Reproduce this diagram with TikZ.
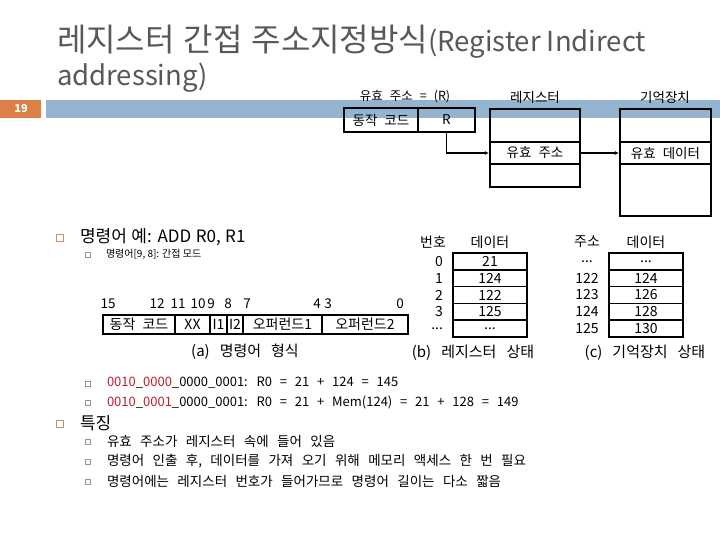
\documentclass[tikz,border=0pt]{standalone}
\usepackage{fontspec}
\setmainfont{Noto Sans CJK KR}
\usetikzlibrary{arrows.meta}
\definecolor{titlegray}{RGB}{90,88,86}
\definecolor{barblue}{RGB}{148,179,206}
\definecolor{barorange}{RGB}{221,128,71}
\definecolor{bulletone}{RGB}{196,146,110}
\definecolor{bullettwo}{RGB}{150,150,150}
\definecolor{binred}{RGB}{190,30,40}
\newcommand{\fs}[1]{\fontsize{#1}{#1}\selectfont}
\newcommand{\ws}[1]{\spaceskip=#1\relax}
\newcommand{\tdots}{...}
\tikzset{
  txt/.style={inner sep=0pt, outer sep=0pt},
  bone/.style={draw=bulletone, line width=0.8pt, minimum size=6.5pt, inner sep=0pt},
  btwo/.style={draw=bullettwo, line width=0.6pt, minimum size=5.5pt, inner sep=0pt},
  cell/.style={draw, line width=2.2pt, inner sep=0pt, font=\fs{13.5}\ws{7pt}},
  tcell/.style={draw, line width=1.6pt, minimum width=74pt, minimum height=16.8pt, inner sep=0pt, font=\fs{14}},
  fcell/.style={draw, line width=1.8pt, minimum height=19pt, inner sep=0pt, font=\fs{14}\ws{7pt}},
  arr/.style={line width=1.3pt, -{Latex[length=4pt,width=4pt]}},
  body/.style={txt, anchor=west, font=\fs{13.5}\ws{8.4pt}},
  capt/.style={txt, font=\fs{15}\ws{10pt}}
}
\begin{document}
\begin{tikzpicture}[x=1pt,y=-1pt]
\useasboundingbox (0,0) rectangle (720,540);
\fill[white] (0,0) rectangle (720,540);
% title
\node[txt, anchor=base west, text=titlegray] (t1) at (57,52) {{\fs{32}\ws{9pt}레지스터 간접 주소지정방식}{\fs{27.5}(Register Indirect}};
\node[txt, anchor=base west, text=titlegray, font=\fs{27.5}] (t2) at (57,86) {addressing)};
% bar
\fill[barorange] (0,100) rectangle (41,118);
\fill[barblue] (46,100) rectangle (720,118);
\node[txt, text=white, font=\fs{11}\bfseries] (pg) at (21,109) {19};
% top diagram
\node[txt, font=\fs{12.5}\ws{7pt}] (lea) at (405,97) {유효 주소 = (R)};
\node[txt, font=\fs{13.5}] (lreg) at (535,97) {레지스터};
\node[txt, font=\fs{13.5}] (lmem) at (665,97) {기억장치};
\node[cell, line width=2.8pt, minimum width=74pt, minimum height=24pt] (op) at (381,120) {동작 코드};
\node[cell, line width=2.8pt, minimum width=57pt, minimum height=24pt] (rr) at (446.5,120) {R};
\node[cell, minimum width=90pt, minimum height=33pt] (r1) at (535,125.5) {};
\node[cell, minimum width=90pt, minimum height=22pt] (r2) at (535,153) {유효 주소};
\node[cell, minimum width=90pt, minimum height=23pt] (r3) at (535,175.5) {};
\node[cell, minimum width=91pt, minimum height=33pt] (m1) at (665.5,125.5) {};
\node[cell, minimum width=91pt, minimum height=22pt] (m2) at (665.5,153) {유효 데이터};
\node[cell, minimum width=91pt, minimum height=52pt] (m3) at (665.5,190) {};
\draw[arr] (rr.south) |- (r2.west);
\draw[arr] (r2.east) -- (m2.west);
% section 1
\node[bone] (b1) at (60,238) {};
\node[txt, anchor=west, font=\fs{17}\ws{4.5pt}] (s1) at (80,237) {명령어 예: ADD R0, R1};
\node[btwo] (b2) at (88,255) {};
\node[txt, anchor=west, font=\fs{10}] (s2) at (106,254) {명령어[9, 8]: 간접 모드};
% instruction format
\foreach \lab/\xx in {15/108,12/157,11/178,10/198,9/211,8/228,7/247,4/317,3/328,0/400}
  \node[txt, font=\fs{13.5}] (bit\lab) at (\xx,304) {\lab};
\node[fcell, minimum width=72pt] (f1) at (139,324.5) {동작 코드};
\node[fcell, minimum width=35pt] (f2) at (192.5,324.5) {XX};
\node[fcell, minimum width=17pt] (f3) at (218.5,324.5) {I1};
\node[fcell, minimum width=16pt] (f4) at (235,324.5) {I2};
\node[fcell, minimum width=79pt] (f5) at (282.5,324.5) {오퍼런드1};
\node[fcell, minimum width=86pt] (f6) at (365,324.5) {오퍼런드2};
\node[capt] (capa) at (245,352) {(a) 명령어 형식};
% register table
\node[txt, font=\fs{14}] (hn) at (433,242) {번호};
\node[txt, font=\fs{14}] (hd) at (490,242) {데이터};
\foreach \i/\lab/\val in {0/0/21,1/1/124,2/2/122,3/3/125,4/\tdots/\tdots}{
  \node[tcell] (rc\i) at (490,261.4+16.8*\i) {\val};
  \node[txt, anchor=east, font=\fs{14}] (rl\i) at (443,261.4+16.8*\i) {\lab};
}
\node[capt] (capb) at (473,353) {(b) 레지스터 상태};
% memory table
\node[txt, font=\fs{14}] (ha) at (587,242) {주소};
\node[txt, font=\fs{14}] (hm) at (646,242) {데이터};
\foreach \i/\lab/\val in {0/\tdots/\tdots,1/122/124,2/123/126,3/124/128,4/125/130}{
  \node[tcell] (mc\i) at (646,261.4+16.8*\i) {\val};
  \node[txt, font=\fs{14}] (ml\i) at (587,261.4+16.8*\i) {\lab};
}
\node[capt] (capc) at (645,353) {(c) 기억장치 상태};
% examples
\node[btwo] (b3) at (88,384) {};
\node[body, font=\fs{13}\ws{7.8pt}] (e1) at (107,383) {\textcolor{binred}{0010}\_\textcolor{binred}{0000}\_0000\_0001: R0 = 21 + 124 = 145};
\node[btwo] (b4) at (88,403) {};
\node[body, font=\fs{13}\ws{7.8pt}] (e2) at (107,402) {\textcolor{binred}{0010}\_\textcolor{binred}{0001}\_0000\_0001: R0 = 21 + Mem(124) = 21 + 128 = 149};
% features
\node[bone] (b5) at (60,424) {};
\node[txt, anchor=west, font=\fs{17}] (s3) at (80,423) {특징};
\node[btwo] (b6) at (88,442) {};
\node[body] (p1) at (107,441) {유효 주소가 레지스터 속에 들어 있음};
\node[btwo] (b7) at (88,462) {};
\node[body] (p2) at (107,461) {명령어 인출 후, 데이터를 가져 오기 위해 메모리 액세스 한 번 필요};
\node[btwo] (b8) at (88,482) {};
\node[body] (p3) at (107,481) {명령어에는 레지스터 번호가 들어가므로 명령어 길이는 다소 짧음};
\end{tikzpicture}
\end{document}
